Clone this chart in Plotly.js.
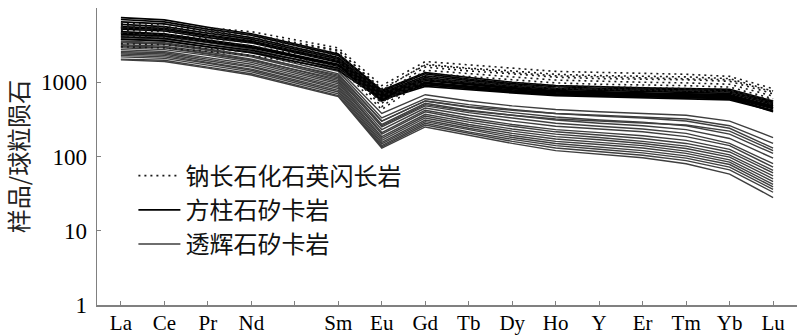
<!DOCTYPE html>
<html>
<head>
<meta charset="utf-8">
<script src="https://cdn.plot.ly/plotly-3.0.1.min.js"></script>
<style>html,body{margin:0;padding:0;background:#fff;}#chart{width:800px;height:335px;}</style>
</head>
<body>
<div id="chart"></div>
<script>
// REE elements (Pm has no data; shown as blank tick)
const elements = ['La','Ce','Pr','Nd','Pm','Sm','Eu','Gd','Tb','Dy','Ho','Y','Er','Tm','Yb','Lu'];
const tickLabels = ['La','Ce','Pr','Nd','','Sm','Eu','Gd','Tb','Dy','Ho','Y','Er','Tm','Yb','Lu'];

const seriesNames = ['钠长石化石英闪长岩','方柱石矽卡岩','透辉石矽卡岩'];

// 钠长石化石英闪长岩 (dotted) — chondrite-normalised, Pm = null
const albiteDiorite = [
  [6200,6000,5400,4800,null,2900,900,1900,1700,1550,1400,1350,1300,1280,1200,820],
  [5800,5600,5000,4400,null,2700,780,1750,1550,1420,1280,1230,1200,1180,1120,760],
  [5400,5200,4600,4000,null,2500,680,1600,1420,1300,1170,1120,1100,1080,1030,700],
  [5000,4800,4200,3700,null,2300,600,1450,1300,1180,1070,1030,1000,980,940,650],
  [4600,4400,3900,3400,null,2100,520,1320,1200,1080,980,940,920,900,860,600],
  [4200,4000,3600,3100,null,1950,470,1200,1100,1000,900,870,850,830,800,560],
  [3300,3200,2850,2550,null,1650,430,1080,1000,900,820,800,780,760,740,510],
  [3000,2900,2600,2300,null,1500,540,1120,1020,920,840,820,800,780,760,580],
  [5600,5400,4800,4300,null,2650,820,1700,1500,1350,1220,1180,1150,1120,1080,740]
];

// 方柱石矽卡岩 (black solid)
const scapoliteSkarn = [
  [7400,6900,5500,4500,null,2400,780,1350,1150,1000,900,860,840,820,800,560],
  [7000,6500,5200,4300,null,2300,750,1300,1100,960,870,830,810,790,770,540],
  [6500,6100,4900,4000,null,2150,720,1220,1050,920,830,800,780,760,740,520],
  [6000,5600,4600,3800,null,2050,700,1150,1000,880,800,770,750,730,710,500],
  [5600,5300,4300,3600,null,1950,680,1100,960,850,770,740,720,700,680,480],
  [5200,4900,4000,3400,null,1850,660,1050,920,820,740,720,700,680,660,470],
  [4800,4500,3700,3100,null,1750,640,1000,880,790,720,700,680,660,640,450],
  [4400,4200,3500,2900,null,1650,620,960,850,760,700,680,660,640,620,440],
  [4100,3900,3200,2700,null,1550,600,920,820,740,680,660,640,620,600,420],
  [3800,3600,3000,2500,null,1450,580,880,790,720,660,640,620,600,580,410],
  [4600,4400,3600,3000,null,1700,560,980,860,760,690,670,650,630,610,400],
  [5400,5100,4200,3500,null,1900,600,1080,940,830,750,720,700,690,670,450]
];

// 透辉石矽卡岩 (grey solid)
const diopsideSkarn = [
  [4300,4100,3400,2800,null,1500,380,680,560,480,430,400,380,360,300,180],
  [4000,3800,3200,2600,null,1400,330,600,500,430,380,350,330,300,240,130],
  [3800,3600,3000,2500,null,1300,300,560,460,390,340,310,290,260,200,110],
  [3600,3400,2800,2300,null,1200,270,520,420,360,310,280,260,230,175,95],
  [3400,3250,2700,2200,null,1150,250,480,390,330,280,255,235,205,150,80],
  [3200,3050,2550,2050,null,1050,230,450,360,300,255,235,215,185,140,72],
  [3000,2900,2400,1950,null,1000,210,420,330,270,230,210,190,165,125,65],
  [2900,2750,2300,1850,null,950,200,400,310,255,215,195,175,150,115,60],
  [2750,2600,2150,1750,null,900,185,370,290,235,200,180,160,138,105,55],
  [2600,2500,2050,1650,null,860,175,350,270,220,185,168,150,128,98,50],
  [2500,2400,1950,1600,null,820,165,330,255,205,172,155,140,118,90,46],
  [2400,2300,1850,1500,null,780,155,310,240,192,160,145,130,110,84,42],
  [2300,2200,1800,1450,null,740,148,295,228,180,150,135,120,102,78,39],
  [2200,2100,1700,1380,null,700,140,280,215,170,140,125,112,95,72,36],
  [2050,1980,1600,1300,null,660,135,265,205,160,130,116,104,88,66,33],
  [2000,1900,1550,1250,null,640,130,250,195,150,120,108,96,80,58,28],
  [3500,3300,2750,2250,null,1250,300,560,470,420,380,360,340,320,260,150],
  [3100,2950,2450,2000,null,1100,260,500,410,360,320,300,285,265,220,120]
];

const yTickVals = [1,10,100,1000,10000];
const yTickText = ['1','10','100','1000','10000'];

const traces = [];
function addGroup(rows, name, line) {
  rows.forEach((ys, i) => {
    traces.push({
      type: 'scatter', mode: 'lines',
      x: elements, y: ys, connectgaps: true,
      name: name, showlegend: i === 0,
      line: line, hoverinfo: 'skip'
    });
  });
}
addGroup(diopsideSkarn, seriesNames[2], {color: '#3e3e3e', width: 1.4});
addGroup(scapoliteSkarn, seriesNames[1], {color: '#000000', width: 1.7});
addGroup(albiteDiorite, seriesNames[0], {color: '#1a1a1a', width: 1.6, dash: '2px,4px'});

const layout = {
  width: 800, height: 335,
  margin: {l: 97, r: 3, t: 8, b: 30},
  paper_bgcolor: '#fff', plot_bgcolor: '#fff',
  showlegend: true,
  legend: {
    x: 0.052, y: 0.51, xanchor: 'left', yanchor: 'top',
    traceorder: 'reversed',
    bgcolor: 'rgba(0,0,0,0)', borderwidth: 0,
    itemwidth: 42,
    font: {family: '"Noto Sans CJK SC", sans-serif', size: 24, color: '#111'}
  },
  xaxis: {
    type: 'category', categoryorder: 'array', categoryarray: elements,
    tickvals: elements, ticktext: tickLabels,
    range: [-0.55, 15.55],
    showgrid: false, zeroline: false,
    showline: true, linecolor: '#808080', linewidth: 1.5,
    ticks: 'inside', ticklen: 4, tickcolor: '#808080', tickwidth: 1,
    ticklabelstandoff: -2,
    tickfont: {family: '"Liberation Serif", "Times New Roman", serif', size: 21, color: '#000'}
  },
  yaxis: {
    type: 'log', range: [0, 4],
    tickvals: yTickVals, ticktext: yTickText,
    showgrid: false, zeroline: false,
    showline: true, linecolor: '#808080', linewidth: 1.5,
    ticks: 'inside', ticklen: 4, tickcolor: '#808080', tickwidth: 1,
    ticklabelstandoff: 4,
    tickfont: {family: '"Liberation Serif", "Times New Roman", serif', size: 23, color: '#000'},
    title: {text: '样品/球粒陨石', standoff: 6,
            font: {family: '"Noto Sans CJK SC", sans-serif', size: 24, color: '#222'}}
  }
};

Plotly.newPlot('chart', traces, layout, {staticPlot: true, displayModeBar: false});
</script>
</body>
</html>
